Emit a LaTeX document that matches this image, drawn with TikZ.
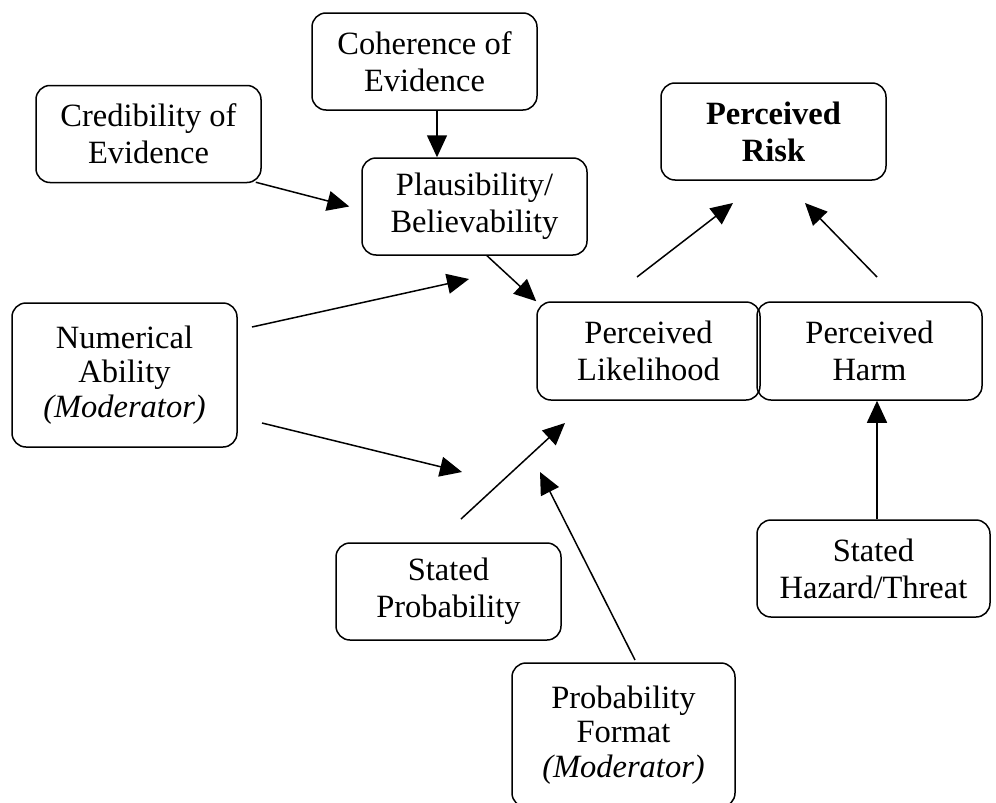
\documentclass[tikz,border=0pt]{standalone}
\usepackage{fontspec}
\setmainfont{Liberation Serif}
\usetikzlibrary{arrows.meta}
\begin{document}
\begin{tikzpicture}[x=1pt,y=-1pt,
  box/.style={draw,line width=1.5pt,rounded corners=14pt,minimum width=225pt,
    minimum height=97pt,inner sep=0pt,align=center,
    font=\fontsize{32.5}{37}\selectfont},
  box3/.style={box,font=\fontsize{32.5}{34.5}\selectfont},
  arr/.style={line width=1.5pt,-{Triangle[length=22pt,width=20pt]}}]
\useasboundingbox (0,0) rectangle (996,803);
% nodes
\node[box] (coh) at (424.5,61.5) {Coherence of\\Evidence};
\node[box] (cred) at (148.5,134) {Credibility of\\Evidence};
\node[box] (pla) at (474.5,206.5) {Plausibility/\\Believability};
\node[box,font=\fontsize{32.5}{37}\selectfont\bfseries] (risk) at (773.5,131.5) {Perceived\\Risk};
\node[box,minimum width=223pt,minimum height=98pt] (lik) at (648.5,351) {Perceived\\Likelihood};
\node[box,minimum height=98pt] (harm) at (869.5,351) {Perceived\\Harm};
\node[box3,minimum height=144pt] (num) at (124.5,375) {Numerical\\Ability\\\textit{(Moderator)}};
\node[box] (sp) at (448.5,591.5) {Stated\\Probability};
\node[box3,minimum width=223pt,minimum height=144pt] (fmt) at (623.5,735) {Probability\\Format\\\textit{(Moderator)}};
\node[box,minimum width=233pt] (haz) at (873.5,568.5) {Stated\\Hazard/Threat};
% free connector ends
\coordinate (c1) at (252,327); \coordinate (t1) at (469,279);
\coordinate (c2) at (262,423); \coordinate (t2) at (462,472);
\coordinate (c3) at (461,519); \coordinate (t3) at (565,423);
\coordinate (c4) at (635,660); \coordinate (t4) at (540,472);
\coordinate (c5) at (637,277); \coordinate (t5) at (733,203);
\coordinate (c6) at (877,277); \coordinate (t6) at (805,203);
% connectors
\draw[arr] ([xshift=12.5pt]coh.south) -- ([xshift=12.5pt]coh.south |- pla.north);
\draw[arr] ([xshift=-6pt,yshift=1pt]cred.south east) -- ([xshift=-12pt]pla.west);
\draw[arr] ([xshift=12.5pt]pla.south) -- (lik.north west);
\draw[arr] (c1) -- (t1);
\draw[arr] (c2) -- (t2);
\draw[arr] (c3) -- (t3);
\draw[arr] (c4) -- (t4);
\draw[arr] (c5) -- (t5);
\draw[arr] (c6) -- (t6);
\draw[arr] ([xshift=3.5pt]haz.north) -- ([xshift=3.5pt]haz.north |- harm.south);
\end{tikzpicture}
\end{document}
